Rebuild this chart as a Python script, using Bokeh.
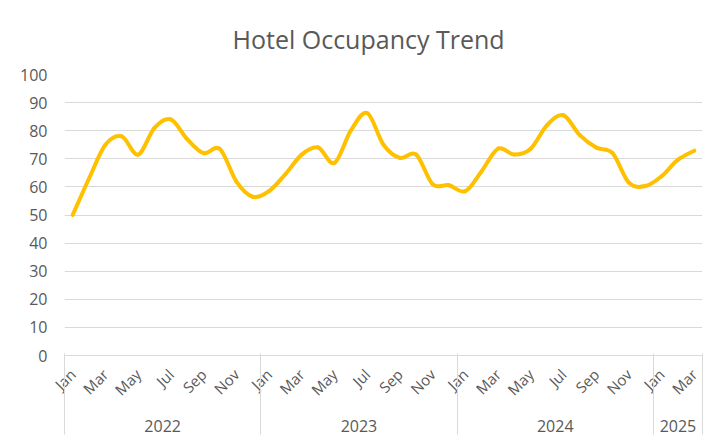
import numpy as np
from bokeh.plotting import figure
from bokeh.models import LinearAxis, FixedTicker, Range1d
from bokeh.embed import file_html
from bokeh.resources import INLINE

# ---- data ----
months = ["Jan", "Feb", "Mar", "Apr", "May", "Jun", "Jul", "Aug", "Sep", "Oct", "Nov", "Dec"] * 3 + ["Jan", "Feb", "Mar"]
years = ["2022", "2023", "2024", "2025"]
year_counts = [12, 12, 12, 3]
occupancy = [50, 63, 75, 78, 71.5, 81, 84, 77, 72, 73.5, 62, 56.5,
             58.5, 64.5, 71.5, 74, 68.5, 80, 86.3, 75, 70.3, 71.5, 61, 60.6,
             58.5, 65.6, 73.6, 71.5, 73.6, 82, 85.5, 78.4, 74, 72, 61.5, 60.3,
             63.8, 69.7, 72.9]
y_ticks = list(range(0, 101, 10))

TEXT = "#595959"
GRID = "#D9D9D9"
LINE = "#FFC000"
FONT = "Open Sans"

n = len(occupancy)
x = np.arange(n, dtype=float)
y = np.array(occupancy, dtype=float)

# smoothed line (Catmull-Rom -> cubic Bezier), like Excel's "smoothed line"
xp = np.concatenate([[x[0]], x, [x[-1]]])
yp = np.concatenate([[y[0]], y, [y[-1]]])
x0, y0 = x[:-1], y[:-1]
x1, y1 = x[1:], y[1:]
cx0 = x0 + (xp[2:n + 1] - xp[0:n - 1]) / 6
cy0 = y0 + (yp[2:n + 1] - yp[0:n - 1]) / 6
cx1 = x1 - (xp[3:n + 2] - xp[1:n]) / 6
cy1 = y1 - (yp[3:n + 2] - yp[1:n]) / 6

p = figure(width=716, height=436,
           x_range=Range1d(-0.5, n - 0.5), y_range=Range1d(0, 100),
           output_backend="svg", toolbar_location=None,
           title="Hotel Occupancy Trend",
           min_border_left=64, min_border_right=14,
           min_border_top=73, min_border_bottom=81)
p.outline_line_color = None

p.title.text_font = FONT
p.title.text_font_size = "25px"
p.title.text_font_style = "normal"
p.title.text_color = TEXT
p.title.align = "left"
p.title.offset = 168
p.title.standoff = 38

p.bezier(x0=x0, y0=y0, x1=x1, y1=y1, cx0=cx0, cy0=cy0, cx1=cx1, cy1=cy1,
         line_color=LINE, line_width=4, line_cap="round")

# y axis
ya = p.yaxis[0]
ya.ticker = FixedTicker(ticks=y_ticks)
ya.axis_line_color = None
ya.major_tick_line_color = None
ya.minor_tick_line_color = None
ya.major_tick_out = 0
ya.major_tick_in = 0
ya.major_label_standoff = 17
ya.major_label_text_font = FONT
ya.major_label_text_font_size = "16px"
ya.major_label_text_color = TEXT

p.xgrid.grid_line_color = None
p.ygrid.ticker = FixedTicker(ticks=y_ticks)
p.ygrid.grid_line_color = GRID

# month axis
month_ticks = list(range(0, n, 2))
xa = p.xaxis[0]
xa.ticker = FixedTicker(ticks=month_ticks)
xa.major_label_overrides = {i: months[i] for i in month_ticks}
xa.major_label_orientation = np.pi / 4
xa.axis_line_color = GRID
xa.major_tick_line_color = None
xa.minor_tick_line_color = None
xa.major_tick_out = 0
xa.major_tick_in = 0
xa.major_label_standoff = 16
xa.major_label_text_font = FONT
xa.major_label_text_font_size = "15px"
xa.major_label_text_color = TEXT

# year axis
starts = np.concatenate([[0], np.cumsum(year_counts)[:-1]])
centers = [float(s + (c - 1) / 2) for s, c in zip(starts, year_counts)]
bounds = [float(b) - 0.5 for b in np.concatenate([[0], np.cumsum(year_counts)])]
yr = LinearAxis(ticker=FixedTicker(ticks=centers),
                major_label_overrides={c: t for c, t in zip(centers, years)},
                axis_line_color=None, major_tick_line_color=None, minor_tick_line_color=None,
                major_tick_out=0, major_tick_in=0, major_label_standoff=10,
                major_label_text_font=FONT, major_label_text_font_size="16px",
                major_label_text_color=TEXT)
p.add_layout(yr, "below")

# separators between years
sep = LinearAxis(ticker=FixedTicker(ticks=bounds),
                 major_label_overrides={b: "" for b in bounds},
                 axis_line_color=None, major_tick_line_color=GRID, minor_tick_line_color=None,
                 major_tick_out=0, major_tick_in=81, major_label_standoff=0,
                 major_label_text_font_size="0px")
p.add_layout(sep, "below")

open("out.html", "w").write(file_html(p, INLINE))
